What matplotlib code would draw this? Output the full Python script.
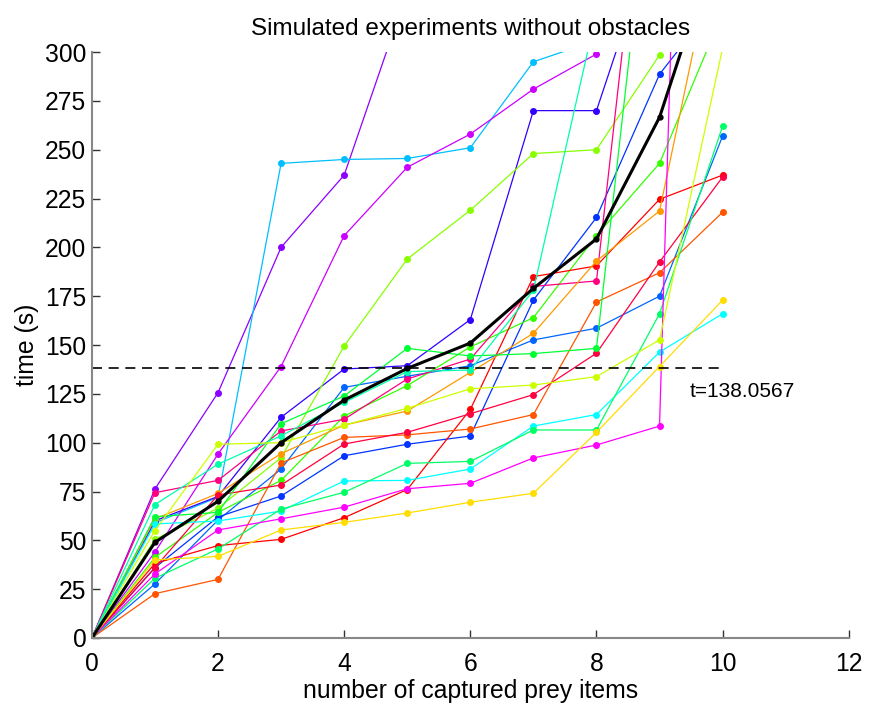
import matplotlib
matplotlib.use("Agg")
import matplotlib.pyplot as plt

plt.rcParams["font.family"] = ["Liberation Sans", "DejaVu Sans"]

captured = [0, 1, 2, 3, 4, 5, 6, 7, 8, 9, 10]

# time (s) needed by each simulated run to reach n captured prey
runs = [
    ("#8c00ff", [0, 76.3, 125.6, 200, 237, 331, 400, 440, 480, 520, 560]),
    ("#00bfff", [0, 59, 72, 243, 245, 245.5, 251, 295, 306, 360, 420]),
    ("#cc00ff", [0, 44, 94.2, 139, 206, 241, 258, 281, 299, 380, 440]),
    ("#3300ff", [0, 60, 72.5, 113, 137.7, 139.4, 163, 270, 270, 367, 420]),
    ("#0066ff", [0, 27.7, 60.4, 86.5, 128.3, 134, 139.4, 152.6, 158.6, 175, 257]),
    ("#88ff00", [0, 50.5, 66.4, 92.3, 149.5, 194, 219, 248, 250, 298.5, 360]),
    ("#0033ff", [0, 36, 62, 72.7, 93.3, 99.2, 103.4, 173, 215.3, 288.6, 330]),
    ("#33ff00", [0, 41.3, 64.3, 80.7, 113.6, 129.2, 149, 164, 206, 243, 320]),
    ("#ff0000", [0, 38.2, 47.3, 50.5, 61.6, 76, 117, 185, 190.5, 224.6, 237]),
    ("#ff0080", [0, 74.4, 80.7, 106, 112, 132.6, 142.8, 180, 182.8, 470, 520]),
    ("#ff9900", [0, 61, 74, 94.4, 109, 116.2, 136, 156, 193, 218.6, 372]),
    ("#ff5500", [0, 22.7, 30, 89.6, 102.7, 104, 107, 114.4, 172, 187, 218]),
    ("#ff0040", [0, 36, 73.2, 78.3, 99.3, 105.3, 114.8, 124.6, 145.8, 192.5, 236]),
    ("#00ff33", [0, 62.1, 64.3, 109.7, 123.9, 148.3, 144.4, 145.6, 148.3, 435, 500]),
    ("#00ffaa", [0, 68.3, 89, 103.5, 120.6, 136.4, 137.2, 178, 320, 400, 450]),
    ("#00ffff", [0, 58.4, 59.9, 65, 80.4, 80.7, 86.5, 108.5, 114.4, 146.4, 166]),
    ("#00ff66", [0, 30.6, 45.6, 66, 74.6, 89.4, 90.4, 106.5, 106.5, 166, 262]),
    ("#ff00ff", [0, 32.8, 55.3, 61, 67, 76.4, 79.2, 92.2, 98.8, 108.5, 1200]),
    ("#ffdd00", [0, 40, 41.8, 55.3, 59.2, 64, 69.5, 74.1, 105.3, 139, 173]),
    ("#ccff00", [0, 55, 99.2, 100, 109, 117.6, 127.6, 129.5, 133.8, 152.6, 302]),
]

mean_time = [0, 49, 70, 100, 121.8, 138, 151, 179, 204.3, 266.6, 365]
threshold = 138.0567

fig = plt.figure(figsize=(8.75, 7.07), dpi=100)
ax = fig.add_axes([0.105, 0.0976, 0.865, 0.8288])

for color, t in runs:
    ax.plot(captured, t, "-", color=color, lw=0.9, marker="o", ms=4,
            mec=color, mfc=color)

ax.plot(captured, mean_time, "-", color="black", lw=2.2, marker="o", ms=3.5)
ax.plot([0, 10], [threshold, threshold], "--", color="black", lw=1.2,
        dashes=(6, 4))
ax.text(9.48, 126, "t=%.4f" % threshold, fontsize=15, va="center", ha="left")

ax.set_xlim(0, 12)
ax.set_ylim(0, 300)
ax.set_xticks(range(0, 13, 2))
ax.set_yticks(range(0, 301, 25))

for side in ["top", "right"]:
    ax.spines[side].set_visible(False)
for side in ["left", "bottom"]:
    ax.spines[side].set_color("#888888")
    ax.spines[side].set_linewidth(1.5)

ax.tick_params(direction="in", length=6, width=1, color="#333333",
               labelsize=17.7, pad=4)
ax.tick_params(axis="x", pad=10)

ax.set_title("Simulated experiments without obstacles", fontsize=17.5, pad=12)
ax.set_xlabel("number of captured prey items", fontsize=17.8, labelpad=2)
ax.set_ylabel("time (s)", fontsize=17.8, labelpad=4)

fig.savefig("out.png", dpi=100)
